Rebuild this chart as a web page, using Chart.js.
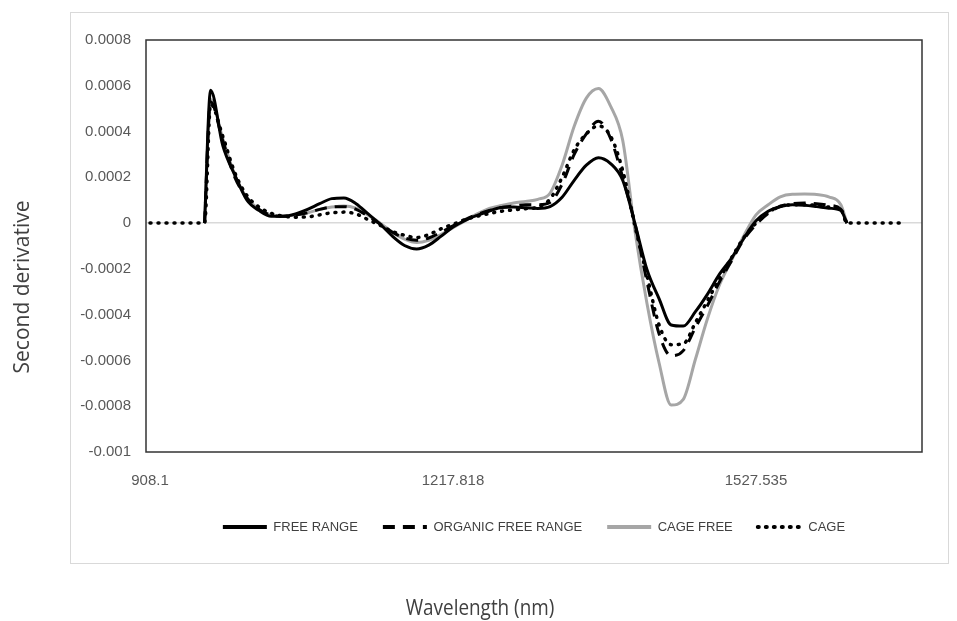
<!DOCTYPE html>
<html>
<head>
<meta charset="utf-8">
<script src="https://cdn.jsdelivr.net/npm/chart.js@4.4.1/dist/chart.umd.min.js"></script>
<style>
  body { margin: 0; background: #fff; }
  #chart { display: block; }
</style>
</head>
<body>
<canvas id="chart" width="957" height="621"></canvas>
<script>
// wavelength (nm) of each sample
const wavelengths = [908.1, 920.49, 932.88, 945.27, 957.65, 963.85,
  970.04, 982.43, 994.82, 1007.21, 1019.60, 1031.99, 1044.38, 1056.76, 1069.15, 1081.54,
  1093.93, 1106.32, 1118.71, 1131.10, 1143.48, 1155.87, 1168.26, 1180.65, 1193.04, 1205.43,
  1217.82, 1230.21, 1242.59, 1254.98, 1267.37, 1279.76, 1292.15, 1304.54, 1316.93, 1329.32,
  1341.70, 1354.09, 1366.48, 1378.87, 1391.26, 1403.65, 1416.04, 1428.42, 1440.81, 1453.20,
  1465.59, 1477.98, 1490.37, 1502.76, 1515.15, 1527.53, 1539.92, 1552.31, 1564.70, 1577.09,
  1589.48, 1601.87, 1614.25, 1620.45,
  1626.64, 1639.03, 1651.42, 1663.81, 1676.20]

const freeRange = [null, null, null, null, null, 0,
  0.00058, 0.00034, 0.00021, 0.0001, 0.000055, 0.00003, 0.00003, 0.00004, 0.00006, 0.000085,
  0.000107, 0.00011, 0.000085, 0.00004, -0.000005, -0.000057, -0.000098, -0.000113, -0.000096, -0.000058,
  -0.000017, 0.000012, 0.000034, 0.000053, 0.000068, 0.00007, 0.000067, 0.000064, 0.000072, 0.000113,
  0.000187, 0.000253, 0.000286, 0.00026, 0.000187, 0, -0.000203, -0.00033, -0.000445, -0.00045,
  -0.000387, -0.00031, -0.000222, -0.000152, -0.000066, 0.00001, 0.000052, 0.000072, 0.00008, 0.000078,
  0.000072, 0.000065, 0.000055, 0,
  null, null, null, null, null]

const organicFreeRange = [null, null, null, null, null, 0,
  0.00053, 0.00036, 0.0002, 0.00011, 0.00006, 0.000035, 0.00003, 0.000035, 0.000045, 0.00006,
  0.00007, 0.000072, 0.00006, 0.00003, -0.000005, -0.00004, -0.000065, -0.000075, -0.000065, -0.00004,
  -0.000012, 0.000015, 0.000038, 0.000055, 0.000068, 0.000075, 0.00008, 0.00008, 0.00009, 0.00017,
  0.0003, 0.00039, 0.000445, 0.00037, 0.0002, 0, -0.000255, -0.000483, -0.00058, -0.000557,
  -0.000456, -0.00036, -0.000255, -0.000163, -0.000071, -0.000006, 0.000042, 0.000073, 0.000085, 0.000088,
  0.000085, 0.000078, 0.00006, 0,
  null, null, null, null, null]

const cageFree = [null, null, null, null, null, 0,
  0.00054, 0.00037, 0.00021, 0.00011, 0.00006, 0.000035, 0.00003, 0.000035, 0.000045, 0.00006,
  0.00007, 0.000075, 0.000065, 0.000035, 0, -0.00004, -0.00007, -0.000085, -0.000075, -0.00005,
  -0.00002, 0.00001, 0.00004, 0.000064, 0.000077, 0.000088, 0.000095, 0.000104, 0.00013, 0.000253,
  0.000423, 0.000546, 0.000588, 0.000511, 0.000362, -0.00003, -0.00035, -0.00061, -0.000795, -0.00077,
  -0.000595, -0.000417, -0.000268, -0.00016, -0.000055, 0.000036, 0.00008, 0.000115, 0.000126, 0.000127,
  0.000125, 0.000115, 0.00008, 0,
  null, null, null, null, null]

const cage = [0, 0, 0, 0, 0, 0,
  0.00052, 0.00038, 0.00022, 0.00012, 0.00007, 0.000043, 0.00003, 0.000026, 0.000027, 0.000036,
  0.000045, 0.000048, 0.00004, 0.000015, -0.00001, -0.000037, -0.000053, -0.000063, -0.00005, -0.000025,
  -0.000005, 0.000015, 0.00003, 0.000042, 0.000052, 0.000058, 0.000063, 0.00007, 0.000105, 0.0002,
  0.00032, 0.00039, 0.000425, 0.00038, 0.00023, -0.00001, -0.000229, -0.000444, -0.000531, -0.000527,
  -0.000435, -0.000338, -0.000242, -0.00015, -0.000063, 0, 0.000047, 0.000073, 0.00008, 0.00008,
  0.000078, 0.00007, 0.00006, 0,
  0, 0, 0, 0, 0]

const xTicks = [908.1, 1217.818, 1527.535]

const sans = "'Liberation Sans', Arial, sans-serif"

const toPoints = values => wavelengths.map((w, i) => ({ x: w, y: values[i] }))

const series = (label, values, color, width, dash, cap, order) => ({
	label,
	data: toPoints(values),
	borderColor: color,
	backgroundColor: color,
	borderWidth: width,
	borderDash: dash,
	borderCapStyle: cap,
	pointRadius: 0,
	cubicInterpolationMode: 'monotone',
	order
})

// legend keeps the line style of each dataset
const legendLabels = chart => Chart.defaults.plugins.legend.labels.generateLabels(chart).map(item => {
	const ds = chart.data.datasets[item.datasetIndex]
	item.pointStyle = 'line'
	item.lineDash = ds.borderDash
	item.lineCap = ds.borderCapStyle
	item.lineWidth = 4
	item.strokeStyle = ds.borderColor
	return item
})

// outer frame, plot frame and the two axis titles
const decor = {
	id: 'decor',
	beforeDraw(chart) {
		const ctx = chart.ctx
		ctx.save()
		ctx.fillStyle = '#fff'
		ctx.fillRect(0, 0, chart.width, chart.height)
		ctx.strokeStyle = '#d9d9d9'
		ctx.lineWidth = 1
		ctx.strokeRect(70.5, 12.5, 878, 551)
		ctx.restore()
	},
	beforeDatasetsDraw(chart) {
		const { ctx, chartArea: a } = chart
		ctx.save()
		ctx.strokeStyle = '#333333'
		ctx.lineWidth = 1.5
		ctx.strokeRect(a.left, a.top, a.right - a.left, a.bottom - a.top)
		ctx.restore()
	},
	afterDraw(chart) {
		const ctx = chart.ctx
		ctx.save()
		ctx.fillStyle = '#404040'
		ctx.font = "21px 'Open Sans', sans-serif"
		ctx.textAlign = 'center'
		ctx.textBaseline = 'middle'
		ctx.save()
		ctx.translate(480, 609)
		ctx.scale(0.9, 1)
		ctx.fillText('Wavelength (nm)', 0, 0)
		ctx.restore()
		ctx.translate(23, 287)
		ctx.rotate(-Math.PI / 2)
		ctx.fillText('Second derivative', 0, 0)
		ctx.restore()
	}
}

new Chart(document.getElementById('chart'), {
	type: 'line',
	data: {
		datasets: [
			series('FREE RANGE', freeRange, '#000000', 3, [], 'butt', 3),
			series('ORGANIC FREE RANGE', organicFreeRange, '#000000', 3, [12, 8], 'butt', 2),
			series('CAGE FREE', cageFree, '#a6a6a6', 3, [], 'butt', 4),
			series('CAGE', cage, '#000000', 3.5, [1, 7], 'round', 1)
		]
	},
	options: {
		responsive: false,
		animation: false,
		devicePixelRatio: 1,
		layout: { padding: { left: 0, right: 35, top: 40, bottom: 77.5 } },
		scales: {
			x: {
				type: 'linear',
				min: 904.0,
				max: 1697.2,
				afterFit: s => { s.height = 43.5 },
				afterBuildTicks: s => { s.ticks = xTicks.map(v => ({ value: v })) },
				grid: { display: false, drawTicks: false },
				border: { display: false },
				ticks: {
					padding: 20,
					maxRotation: 0,
					autoSkip: false,
					color: '#595959',
					font: { family: sans, size: 15 },
					callback: v => String(v)
				}
			},
			y: {
				min: -0.001,
				max: 0.0008,
				afterFit: s => { s.width = 146 },
				grid: {
					drawTicks: false,
					lineWidth: 1.5,
					color: c => Math.abs(c.tick.value) < 1e-9 ? '#d9d9d9' : 'rgba(0,0,0,0)'
				},
				border: { display: false },
				ticks: {
					stepSize: 0.0002,
					padding: 15,
					color: '#595959',
					font: { family: sans, size: 15 },
					callback: v => String(Number(v.toFixed(4)))
				}
			}
		},
		plugins: {
			legend: {
				position: 'bottom',
				fullSize: false,
				labels: {
					usePointStyle: true,
					pointStyle: 'line',
					pointStyleWidth: 44,
					padding: 25,
					color: '#404040',
					font: { family: sans, size: 13 },
					generateLabels: legendLabels,
					sort: (a, b) => a.datasetIndex - b.datasetIndex
				}
			},
			tooltip: { enabled: false }
		}
	},
	plugins: [decor]
})
</script>
</body>
</html>
